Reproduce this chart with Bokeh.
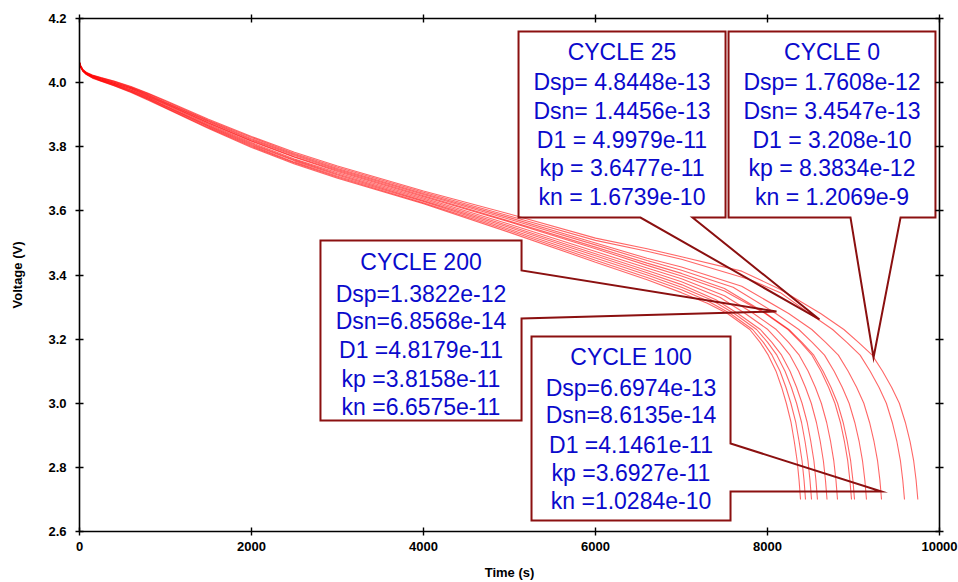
from bokeh.plotting import figure
from bokeh.models import LinearAxis, FixedTicker, NumeralTickFormatter, Range1d
from bokeh.core.properties import value
from bokeh.embed import file_html
from bokeh.resources import INLINE

# ---- discharge curves: voltage (V) against time (s) ----
# shared early-time sampling for every curve
t_body = [0, 15, 40, 80, 150, 250, 400, 600, 800, 1000, 1500, 2000, 2500, 3000, 4000, 5000, 6000]

v_body_c0 = [4.060, 4.047, 4.035, 4.025, 4.014, 4.004, 3.990, 3.969, 3.945, 3.920, 3.857, 3.798, 3.746, 3.702, 3.622, 3.533, 3.440]
v_body_c1 = [4.060, 4.047, 4.035, 4.026, 4.015, 4.005, 3.991, 3.971, 3.947, 3.922, 3.859, 3.801, 3.749, 3.705, 3.625, 3.538, 3.446]
v_body_c2 = [4.061, 4.048, 4.036, 4.026, 4.016, 4.006, 3.993, 3.972, 3.949, 3.924, 3.862, 3.804, 3.752, 3.708, 3.629, 3.543, 3.453]
v_body_c3 = [4.061, 4.048, 4.037, 4.027, 4.017, 4.007, 3.994, 3.974, 3.951, 3.926, 3.865, 3.807, 3.756, 3.712, 3.632, 3.548, 3.460]
v_body_c4 = [4.061, 4.049, 4.037, 4.027, 4.018, 4.008, 3.995, 3.976, 3.953, 3.928, 3.867, 3.810, 3.759, 3.715, 3.636, 3.553, 3.466]
v_body_c5 = [4.062, 4.049, 4.038, 4.028, 4.018, 4.009, 3.997, 3.977, 3.955, 3.931, 3.870, 3.813, 3.762, 3.719, 3.640, 3.558, 3.473]
v_body_c6 = [4.062, 4.050, 4.038, 4.029, 4.020, 4.011, 3.998, 3.980, 3.957, 3.933, 3.873, 3.817, 3.767, 3.723, 3.644, 3.565, 3.482]
v_body_c7 = [4.062, 4.050, 4.039, 4.029, 4.020, 4.011, 3.999, 3.981, 3.959, 3.935, 3.875, 3.819, 3.769, 3.726, 3.647, 3.568, 3.487]
v_body_c8 = [4.063, 4.051, 4.039, 4.030, 4.021, 4.013, 4.001, 3.983, 3.961, 3.937, 3.878, 3.822, 3.773, 3.729, 3.651, 3.574, 3.494]
v_body_c9 = [4.063, 4.051, 4.040, 4.031, 4.022, 4.014, 4.002, 3.984, 3.963, 3.939, 3.880, 3.825, 3.776, 3.732, 3.654, 3.579, 3.500]
v_body_c10 = [4.064, 4.052, 4.040, 4.031, 4.023, 4.015, 4.004, 3.986, 3.965, 3.942, 3.883, 3.829, 3.779, 3.736, 3.658, 3.584, 3.508]
v_body_c11 = [4.064, 4.052, 4.041, 4.032, 4.024, 4.016, 4.005, 3.988, 3.967, 3.944, 3.886, 3.832, 3.783, 3.740, 3.662, 3.590, 3.515]

# late-time part of each curve, down to the 2.7 V cut-off
t_tail_c0 = [6600, 7000, 7300, 7534, 7794, 7914, 8009, 8099, 8164, 8219, 8274, 8312, 8345, 8367, 8384]
v_tail_c0 = [3.385, 3.345, 3.312, 3.28, 3.23, 3.19, 3.15, 3.10, 3.05, 3.00, 2.94, 2.88, 2.82, 2.76, 2.70]
t_tail_c1 = [6600, 7000, 7300, 7567, 7827, 7952, 8053, 8146, 8214, 8272, 8329, 8368, 8402, 8425, 8442]
v_tail_c1 = [3.392, 3.354, 3.320, 3.28, 3.23, 3.19, 3.15, 3.10, 3.05, 3.00, 2.94, 2.88, 2.82, 2.76, 2.70]
t_tail_c2 = [6600, 7000, 7350, 7612, 7873, 8002, 8109, 8204, 8277, 8338, 8396, 8437, 8471, 8494, 8512]
v_tail_c2 = [3.400, 3.362, 3.322, 3.28, 3.23, 3.19, 3.15, 3.10, 3.05, 3.00, 2.94, 2.88, 2.82, 2.76, 2.70]
t_tail_c3 = [6600, 7000, 7400, 7655, 7917, 8051, 8164, 8262, 8338, 8402, 8462, 8504, 8540, 8563, 8581]
v_tail_c3 = [3.407, 3.370, 3.323, 3.28, 3.23, 3.19, 3.15, 3.10, 3.05, 3.00, 2.94, 2.88, 2.82, 2.76, 2.70]
t_tail_c4 = [6600, 7000, 7450, 7741, 8004, 8142, 8261, 8362, 8441, 8509, 8569, 8614, 8650, 8674, 8692]
v_tail_c4 = [3.414, 3.379, 3.330, 3.28, 3.23, 3.19, 3.15, 3.10, 3.05, 3.00, 2.94, 2.88, 2.82, 2.76, 2.70]
t_tail_c5 = [6600, 7000, 7500, 7838, 8102, 8245, 8369, 8473, 8556, 8626, 8688, 8734, 8771, 8796, 8814]
v_tail_c5 = [3.422, 3.388, 3.335, 3.28, 3.23, 3.19, 3.15, 3.10, 3.05, 3.00, 2.94, 2.88, 2.82, 2.76, 2.70]
t_tail_c6 = [6600, 7000, 7500, 7973, 8238, 8386, 8517, 8623, 8710, 8784, 8848, 8895, 8933, 8958, 8977]
v_tail_c6 = [3.430, 3.397, 3.350, 3.28, 3.23, 3.19, 3.15, 3.10, 3.05, 3.00, 2.94, 2.88, 2.82, 2.76, 2.70]
t_tail_c7 = [6600, 7000, 7500, 7983, 8249, 8401, 8538, 8647, 8738, 8815, 8880, 8928, 8967, 8993, 9012]
v_tail_c7 = [3.437, 3.405, 3.358, 3.28, 3.23, 3.19, 3.15, 3.10, 3.05, 3.00, 2.94, 2.88, 2.82, 2.76, 2.70]
t_tail_c8 = [6600, 7000, 7600, 8097, 8364, 8520, 8663, 8775, 8869, 8949, 9015, 9066, 9105, 9132, 9151]
v_tail_c8 = [3.445, 3.415, 3.362, 3.28, 3.23, 3.19, 3.15, 3.10, 3.05, 3.00, 2.94, 2.88, 2.82, 2.76, 2.70]
t_tail_c9 = [6600, 7000, 7700, 8246, 8515, 8676, 8824, 8938, 9036, 9120, 9187, 9239, 9280, 9307, 9326]
v_tail_c9 = [3.452, 3.425, 3.365, 3.28, 3.23, 3.19, 3.15, 3.10, 3.05, 3.00, 2.94, 2.88, 2.82, 2.76, 2.70]
t_tail_c10 = [6600, 7000, 7800, 8150, 8488, 8757, 8923, 9077, 9194, 9296, 9382, 9451, 9505, 9546, 9573, 9593]
v_tail_c10 = [3.474, 3.449, 3.385, 3.345, 3.28, 3.23, 3.19, 3.15, 3.10, 3.05, 3.00, 2.94, 2.88, 2.82, 2.76, 2.70]
t_tail_c11 = [6600, 7000, 7700, 8150, 8618, 8888, 9058, 9218, 9338, 9443, 9533, 9603, 9658, 9700, 9728, 9748]
v_tail_c11 = [3.482, 3.457, 3.412, 3.355, 3.28, 3.23, 3.19, 3.15, 3.10, 3.05, 3.00, 2.94, 2.88, 2.82, 2.76, 2.70]

x_ticks = [0, 2000, 4000, 6000, 8000, 10000]
y_ticks = [2.6, 2.8, 3.0, 3.2, 3.4, 3.6, 3.8, 4.0, 4.2]

# ---- fitted parameters shown in the callouts ----
cycle0_lines = ["CYCLE 0", "Dsp= 1.7608e-12", "Dsn= 3.4547e-13", "D1 = 3.208e-10",
                "kp = 8.3834e-12", "kn = 1.2069e-9"]
cycle25_lines = ["CYCLE 25", "Dsp= 4.8448e-13", "Dsn= 1.4456e-13", "D1 = 4.9979e-11",
                 "kp = 3.6477e-11", "kn = 1.6739e-10"]
cycle200_lines = ["CYCLE 200", "Dsp=1.3822e-12", "Dsn=6.8568e-14", "D1 =4.8179e-11",
                  "kp =3.8158e-11", "kn =6.6575e-11"]
cycle100_lines = ["CYCLE 100", "Dsp=6.6974e-13", "Dsn=8.6135e-14", "D1 =4.1461e-11",
                  "kp =3.6927e-11", "kn =1.0284e-10"]

curves = [
    (v_body_c0, t_tail_c0, v_tail_c0), (v_body_c1, t_tail_c1, v_tail_c1),
    (v_body_c2, t_tail_c2, v_tail_c2), (v_body_c3, t_tail_c3, v_tail_c3),
    (v_body_c4, t_tail_c4, v_tail_c4), (v_body_c5, t_tail_c5, v_tail_c5),
    (v_body_c6, t_tail_c6, v_tail_c6), (v_body_c7, t_tail_c7, v_tail_c7),
    (v_body_c8, t_tail_c8, v_tail_c8), (v_body_c9, t_tail_c9, v_tail_c9),
    (v_body_c10, t_tail_c10, v_tail_c10), (v_body_c11, t_tail_c11, v_tail_c11),
]

FONT = "Liberation Sans"
BORDER = "#8b1010"
TEXT_BLUE = "#0a0acc"

p = figure(width=958, height=582,
           x_range=Range1d(0, 10000), y_range=Range1d(2.6, 4.2),
           output_backend="svg", toolbar_location=None,
           min_border_left=79, min_border_right=19,
           min_border_top=18, min_border_bottom=51)
p.background_fill_color = "white"
p.border_fill_color = "white"
p.outline_line_color = None
p.xgrid.visible = False
p.ygrid.visible = False


def style_axis(ax, ticks):
    ax.ticker = FixedTicker(ticks=ticks)
    ax.axis_line_color = "black"
    ax.axis_line_width = 1.6
    ax.major_tick_line_color = "black"
    ax.major_tick_line_width = 1.4
    ax.major_tick_in = 4
    ax.major_tick_out = 4
    ax.minor_tick_line_color = None
    ax.major_label_text_font = FONT
    ax.major_label_text_font_style = "bold"
    ax.major_label_text_font_size = "13px"
    ax.major_label_text_color = "black"


# bottom and left axes with labels
xa = p.xaxis[0]
style_axis(xa, x_ticks)
xa.axis_label = "Time (s)"
xa.major_label_standoff = 6
xa.axis_label_standoff = 11

ya = p.yaxis[0]
style_axis(ya, y_ticks)
ya.formatter = NumeralTickFormatter(format="0.0")
ya.axis_label = "Voltage (V)"
ya.major_label_standoff = 9
ya.axis_label_standoff = 20

for ax in (xa, ya):
    ax.axis_label_text_font = FONT
    ax.axis_label_text_font_style = "bold"
    ax.axis_label_text_font_size = "13px"
    ax.axis_label_text_color = "black"

# closing box: top and right axes carry ticks only
top_axis = LinearAxis()
style_axis(top_axis, x_ticks)
top_axis.major_label_overrides = {t: "" for t in x_ticks}
top_axis.major_label_standoff = 0
p.add_layout(top_axis, "above")
right_axis = LinearAxis()
style_axis(right_axis, y_ticks)
right_axis.major_label_overrides = {t: "" for t in y_ticks}
right_axis.major_label_standoff = 0
p.add_layout(right_axis, "right")

# discharge curves
for v_body, t_tail, v_tail in curves:
    p.line(t_body + t_tail, v_body + v_tail, line_color="#ff0000",
           line_width=1.1, line_alpha=0.6)

# callout outlines (box with pointer), in time / voltage units
callout_shapes = [
    ([7547, 9953, 9953, 9547, 9233, 8965, 7547],
     [4.1595, 4.1595, 3.5793, 3.5793, 3.1427, 3.5793, 3.5793]),
    ([5105, 7512, 7512, 7128, 8605, 6523, 5105],
     [4.1595, 4.1595, 3.5793, 3.5793, 3.2612, 3.5793, 3.5793]),
    ([2802, 5140, 5140, 8105, 5140, 5140, 2802],
     [3.5076, 3.5076, 3.414, 3.2862, 3.2643, 2.9462, 2.9462]),
    ([5256, 7570, 7570, 9326, 7570, 7570, 5256],
     [3.2082, 3.2082, 2.8745, 2.7248, 2.7248, 2.6343, 2.6343]),
]
for xs, ys in callout_shapes:
    p.patch(xs, ys, fill_color=None, line_color=BORDER, line_width=2,
            line_join="miter")

# callout text placement: centre time and row voltages
top_rows = [4.094, 4.0004, 3.9115, 3.8226, 3.7337, 3.6448]
callout_text = [
    (8750, top_rows, cycle0_lines),
    (6308, top_rows, cycle25_lines),
    (3971, [3.439, 3.342, 3.255, 3.166, 3.077, 2.988], cycle200_lines),
    (6413, [3.143, 3.049, 2.962, 2.871, 2.784, 2.694], cycle100_lines),
]
for cx, rows, lines in callout_text:
    p.text(x=[cx] * len(lines), y=rows, text=lines,
           text_font=value(FONT), text_font_size="23px",
           text_color=TEXT_BLUE, text_align="center", text_baseline="middle")

open("out.html", "w").write(file_html(p, INLINE))
